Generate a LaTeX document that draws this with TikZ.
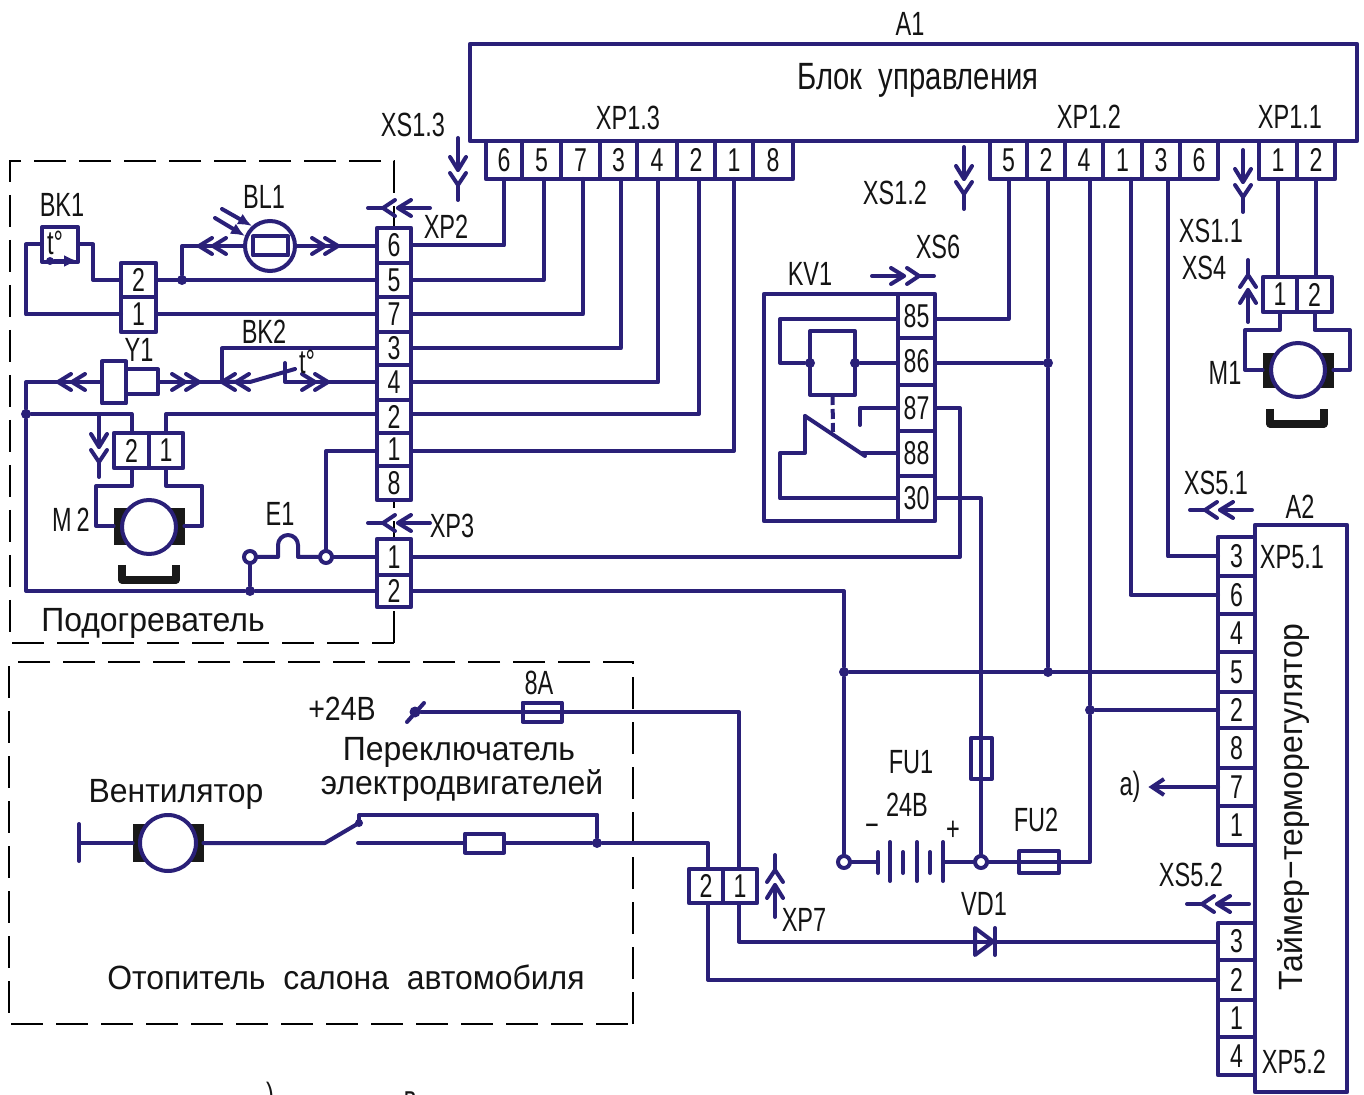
\documentclass[tikz,border=0pt]{standalone}
\usepackage{fontspec}
\usetikzlibrary{arrows.meta}
\setmainfont[FakeStretch=0.7]{Liberation Sans}
\newfontfamily\widefont[FakeStretch=0.95]{Liberation Sans}
\newfontfamily\midfont[FakeStretch=0.85]{Liberation Sans}
\newfontfamily\blokfont[FakeStretch=0.77]{Liberation Sans}
\definecolor{wirec}{HTML}{2A2078}
\definecolor{inkc}{HTML}{141414}
\newcommand{\cellat}[6]{\node[cellbox,minimum width={(#4-#2)*0.5pt},minimum height={(#5-#3)*0.5pt}] (#1) at ({(#2+#4)/2},{(#3+#5)/2}) {#6};}
\newcommand{\lab}[4]{\node[lbl] (#1) at (#2,#3) {#4};}
\newcommand{\wlab}[4]{\node[lbl] (#1) at (#2,#3) {\widefont #4};}
\tikzset{
 x=0.5pt,y=-0.5pt,
 wire/.style={draw=wirec,line width=2pt,line cap=round,line join=round},
 frameline/.style={draw=black,line width=1.4pt,dash pattern=on 16pt off 6.5pt},
 cellbox/.style={draw=wirec,line width=2.2pt,fill=white,inner sep=0pt,outer sep=0pt,text=inkc,font=\fontsize{16.5}{18}\selectfont,line join=round},
 lbl/.style={inner sep=0pt,outer sep=0pt,text=inkc,font=\fontsize{16.8}{19}\selectfont},
 biglbl/.style={lbl,font=\fontsize{19}{21}\selectfont},
 jdot/.style={circle,fill=wirec,inner sep=0pt,minimum size=5pt},
 odot/.style={circle,draw=wirec,fill=white,line width=2pt,inner sep=0pt,minimum size=6pt},
 chev/.pic={\draw[wire] (-13,-8)--(0,0)--(-13,8);},
 conn/.pic={\draw[wire] (-32,0)--(0,0); \draw[wire] (-13,-8)--(0,0)--(-13,8); \draw[wire] (3,-8)--(15,0)--(3,8); \draw[wire] (15,0)--(30,0);},
 brushbox/.style={fill=black!90,draw=black!90},
 ushape/.style={draw=black!90,line width=3.6pt,line join=round},
 rotor/.style={circle,draw=wirec,fill=white,line width=2pt,inner sep=0pt,minimum size=27pt},
 fusebox/.style={draw=wirec,line width=2pt,inner sep=0pt,outer sep=0pt,line join=round},
}
\begin{document}
\begin{tikzpicture}
\useasboundingbox (0,0) rectangle (1364,1095);
\clip (0,0) rectangle (1364,1095);
% frames
\draw[frameline] (394,643) -- (394,161) -- (10,161) -- (10,643) -- cycle;
\draw[frameline] (633,1024) -- (633,662) -- (9,662) -- (9,1024) -- cycle;
% main block
\node[cellbox,minimum width=443.5pt,minimum height=48.5pt] (A1box) at (913.5,92.5) {};
\lab{A1t}{910}{24}{A1}
\node[biglbl] (A1n) at (918,80) {\blokfont Блок\ \ управления};
% top connector cells
\cellat{a6}{486}{141}{522}{179}{6}
\cellat{a5}{522}{141}{561}{179}{5}
\cellat{a7}{561}{141}{600}{179}{7}
\cellat{a3}{600}{141}{637}{179}{3}
\cellat{a4}{637}{141}{677}{179}{4}
\cellat{a2}{677}{141}{715}{179}{2}
\cellat{a1}{715}{141}{753}{179}{1}
\cellat{a8}{753}{141}{793}{179}{8}
\cellat{b5}{990}{141}{1027}{179}{5}
\cellat{b2}{1027}{141}{1065}{179}{2}
\cellat{b4}{1065}{141}{1103}{179}{4}
\cellat{b1}{1103}{141}{1142}{179}{1}
\cellat{b3}{1142}{141}{1180}{179}{3}
\cellat{b6}{1180}{141}{1218}{179}{6}
\cellat{c1}{1259}{141}{1297}{179}{1}
\cellat{c2}{1297}{141}{1335}{179}{2}
% strip XP2
\cellat{p6}{377}{228}{411}{263}{6}
\cellat{p5}{377}{263}{411}{297}{5}
\cellat{p7}{377}{297}{411}{332}{7}
\cellat{p3}{377}{332}{411}{365}{3}
\cellat{p4}{377}{365}{411}{400}{4}
\cellat{p2}{377}{400}{411}{433}{2}
\cellat{p1}{377}{433}{411}{466}{1}
\cellat{p8}{377}{466}{411}{500}{8}
\cellat{q1}{377}{539}{411}{575}{1}
\cellat{q2}{377}{575}{411}{607}{2}
% small connectors
\cellat{g2}{121}{263}{156}{297}{2}
\cellat{g1}{121}{297}{156}{332}{1}
\cellat{m22}{114}{433}{149}{468}{2}
\cellat{m21}{149}{433}{183}{468}{1}
\cellat{d1}{1263}{277}{1297}{312}{1}
\cellat{d2}{1297}{277}{1332}{312}{2}
\cellat{f2}{689}{869}{723}{903}{2}
\cellat{f1}{723}{869}{757}{903}{1}
% relay
\node[cellbox,minimum width=67pt,minimum height=113.5pt] (KV) at (831,407.5) {};
\cellat{k85}{898}{294}{935}{338}{85}
\cellat{k86}{898}{338}{935}{385}{86}
\cellat{k87}{898}{385}{935}{431}{87}
\cellat{k88}{898}{431}{935}{476}{88}
\cellat{k30}{898}{476}{935}{521}{30}
% A2
\node[cellbox,minimum width=46pt,minimum height=283.5pt] (A2box) at (1301,808.5) {};
\cellat{t3}{1218}{537}{1255}{576}{3}
\cellat{t6}{1218}{576}{1255}{614}{6}
\cellat{t4}{1218}{614}{1255}{652}{4}
\cellat{t5}{1218}{652}{1255}{692}{5}
\cellat{t2}{1218}{692}{1255}{728}{2}
\cellat{t8}{1218}{728}{1255}{768}{8}
\cellat{t7}{1218}{768}{1255}{806}{7}
\cellat{tz}{1218}{806}{1255}{845}{1}
\cellat{u3}{1218}{923}{1255}{960}{3}
\cellat{u2}{1218}{960}{1255}{1000}{2}
\cellat{u1}{1218}{1000}{1255}{1037}{1}
\cellat{u4}{1218}{1037}{1255}{1075}{4}
% wires XP2 to top
\draw[wire] (p6.east) -| (a6.south);
\draw[wire] (p5.east) -| ([xshift=1pt]a5.south);
\draw[wire] (p7.east) -| ([xshift=1pt]a7.south);
\draw[wire] (p3.east) -| ([xshift=1pt]a3.south);
\draw[wire] (p4.east) -| ([xshift=0.5pt]a4.south);
\draw[wire] ([yshift=1.25pt]p2.east) -| ([xshift=1.5pt]a2.south);
\draw[wire] ([yshift=-0.75pt]p1.east) -| (a1.south);
% left side
\node[jdot] (j1) at (182,280) {};
\draw[wire] (g2.east) -- (p5.west);
\draw[wire] (g1.east) -- (p7.west);
% BK1
\node[fusebox,minimum width=18pt,minimum height=17.5pt] (BK) at (60,244.5) {};
\node[lbl] (BKt) at (55,243) {t°};
\coordinate (bkl) at (26,314.5);
\draw[wire] (BK.west) -| (bkl) -- (g1.west);
\coordinate (bkr) at (93,244.5);
\draw[wire] (BK.east) -- (bkr) |- (g2.west);
\node[jdot,minimum size=4pt] (bkd) at (50,261) {};
\coordinate (bke) at (78,261);
\draw[wire,-{Latex[length=7pt,width=6pt]}] (bkd) -- (bke);
% BL1
\node[rotor,minimum size=25pt] (BL) at (270,246) {};
\node[fusebox,minimum width=17.5pt,minimum height=9.5pt] (BLr) at (270.5,246) {};
\draw[wire] (j1) |- (BL.west);
\draw[wire] (BL.east) -- (BL.east -| p6.west);
\pic[rotate=180] at (199,246) {chev};
\pic[rotate=180] at (213,246) {chev};
\pic at (325,246) {chev};
\pic at (338,246) {chev};
\coordinate (r1a) at (222,209);\coordinate (r1b) at (252,226);
\coordinate (r2a) at (215,218);\coordinate (r2b) at (245,236);
\draw[wire,-{Latex[length=7pt,width=6pt]}] (r1a) -- (r1b);
\draw[wire,-{Latex[length=7pt,width=6pt]}] (r2a) -- (r2b);
% BK2 and Y1
\coordinate (bk2a) at (222,382);
\draw[wire] (p3.west) -| (bk2a);
\coordinate (bladeA) at (250,382);\coordinate (bladeB) at (295,369);
\coordinate (bk2c) at (285,363);\coordinate (bk2d) at (285,382);
\draw[wire] (bk2a) -- (bladeA) -- (bladeB);
\draw[wire] (bk2c) -- (bk2d) -- (bk2d -| p4.west);
\pic[rotate=180] at (222,382) {chev};
\pic[rotate=180] at (236,382) {chev};
\pic at (315,382) {chev};
\pic at (328,382) {chev};
\node[lbl] (BKs) at (307,362) {t°};
\node[fusebox,minimum width=12pt,minimum height=21pt] (Ya) at (114,382.5) {};
\node[fusebox,minimum width=16pt,minimum height=12.5pt] (Yb) at (142,382) {};
\draw[wire] (Yb.east) -- (bk2a);
\pic at (185,382) {chev};
\pic at (199,382) {chev};
\coordinate (yl) at (26,382);
\node[jdot] (j2) at (26,414) {};
\draw[wire] (Ya.west |- yl) -- (yl) -- (j2);
\pic[rotate=180] at (58,382) {chev};
\pic[rotate=180] at (72,382) {chev};
% M2
\draw[wire] (j2) -| (m22.north);
\draw[wire] ([yshift=1.25pt]p2.west) -| (m21.north);
\node[jdot] (j3) at (250,591) {};
\draw[wire] (j2) |- (j3) -- (q2.west);
\node[odot] (e1a) at (250,557) {};
\node[odot] (e1b) at (326,557) {};
\draw[wire] (e1a) -- (j3);
\draw[wire] (e1a) -- (278,557) -- (278,545) arc[start angle=180,end angle=360,radius=10] -- (298,557) -- (e1b);
\draw[wire] (e1b) -- (q1.west);
\draw[wire] (e1b) |- ([yshift=-0.75pt]p1.west);
\node[brushbox,minimum width=35pt,minimum height=18pt,inner sep=0pt] (M2b) at (149,526) {};
\node[rotor] (M2r) at (149,527) {};
\draw[ushape] (122,565) -- (122,580) -- (176,580) -- (176,565);
\coordinate (m2l) at (96,486);\coordinate (m2r) at (202,486);
\draw[wire] (m22.south) |- (m2l) |- (M2b.west);
\draw[wire] (m21.south) |- (m2r) |- (M2b.east);
% M1
\draw[wire] (c1.south) -- (c1.south |- d1.north);
\draw[wire] (c2.south) -- (c2.south |- d2.north);
\node[brushbox,minimum width=35pt,minimum height=17pt,inner sep=0pt] (M1b) at (1298,370) {};
\node[rotor] (M1r) at (1298,370) {};
\draw[ushape] (1270,409) -- (1270,424) -- (1324,424) -- (1324,409);
\coordinate (m1l) at (1245,330);\coordinate (m1r) at (1350,330);
\draw[wire] (d1.south) |- (m1l) |- (M1b.west);
\draw[wire] (d2.south) |- (m1r) |- (M1b.east);
% relay inside
\node[fusebox,minimum width=22.5pt,minimum height=32pt] (coil) at (832.5,363) {};
\node[jdot] (cl) at (coil.west) {};
\node[jdot] (cr) at (coil.east) {};
\coordinate (kl) at (780,319);
\draw[wire] ([yshift=-1.5pt]k85.west) -- (kl) |- (cl);
\draw[wire] (cr) -- (cr -| k86.west);
\coordinate (n87) at (860,408);\coordinate (n87b) at (860,425);
\draw[wire] (k87.west) -- (n87) -- (n87b);
\coordinate (bA) at (805,416);\coordinate (bB) at (865,456);
\draw[wire] (bA) -- (bB);
\coordinate (bC) at (862,453);
\draw[wire] (bC) -- (bC -| k88.west);
\coordinate (bD) at (805,453);\coordinate (bE) at (780,453);
\draw[wire] (bA) -- (bD) -- (bE) |- (k30.west);
\draw[wire,line cap=butt,dash pattern=on 5pt off 2pt] (coil.south) -- (833,432);
% relay outside
\draw[wire] ([yshift=-1.5pt]k85.east) -| (b5.south);
\node[jdot] (j4) at (1048,363) {};
\draw[wire] (j4 -| k86.east) -- (j4);
\node[jdot] (j5) at (1048,672) {};
\draw[wire] ([xshift=1pt]b2.south) -- (j4) -- (j5);
\coordinate (k87r) at (960,408);
\draw[wire] (k87.east) -- (k87r) |- (q1.east);
\node[odot] (bp) at (981,862) {};
\draw[wire] (k30.east) -| (bp);
% negative bus
\node[odot] (bn) at (844,862) {};
\node[jdot] (j6) at (844,672) {};
\draw[wire] (q2.east) -| (j6) -- (bn);
\draw[wire] (j6) -- (t5.west);
% battery
\coordinate (bat1) at (878,862);\coordinate (bat6) at (943,862);
\draw[wire] (bn) -- (bat1);
\draw[wire] (bat6) -- (bp);
\draw[wire] (878,852) -- (878,873);
\draw[wire] (890,842) -- (890,881);
\draw[wire] (903,852) -- (903,873);
\draw[wire] (917,842) -- (917,881);
\draw[wire] (930,852) -- (930,873);
\draw[wire] (943,842) -- (943,881);
% FU1, FU2
\node[fusebox,minimum width=10.5pt,minimum height=20.5pt] (FU1) at (981.5,758.5) {};
\node[fusebox,minimum width=20pt,minimum height=11pt] (FU2) at (1039,862) {};
\node[jdot] (j7) at (1090,710) {};
\coordinate (fu2r) at (1090,862);
\draw[wire] (bp) -- (FU2.west) -- (FU2.east) -- (fu2r) -- (j7) -- ([xshift=3pt]b4.south);
\draw[wire] (j7) -- (t2.west);
\draw[wire] ([xshift=4pt]b1.south) |- (t6.west);
\draw[wire] ([xshift=3.5pt]b3.south) |- (t3.west);
% a) arrow
\node[lbl] (aout) at (1130,787) {а)};
\draw[wire,-{Straight Barb[length=6pt,width=8pt]}] (t7.west) -- ([xshift=4pt]aout.east);
% heater of saloon
\node[jdot,minimum size=5.5pt] (plus) at (415,712) {};
\coordinate (pt1) at (407,722);\coordinate (pt2) at (424,703);
\draw[wire] (pt1) -- (pt2);
\node[fusebox,minimum width=19.5pt,minimum height=9.5pt] (F8) at (542,712) {};
\coordinate (p1c) at (739,712);
\draw[wire] (plus) -- (F8.west) -- (F8.east) -- (p1c) -- (f1.north -| p1c);
% fan
\node[brushbox,minimum width=35pt,minimum height=18.5pt,inner sep=0pt] (Fb) at (168,843) {};
\node[rotor,minimum size=28pt] (Fr) at (168,843) {};
\coordinate (fbar) at (79,843);
\draw[wire] (79,824) -- (79,861);
\draw[wire] (fbar) -- (Fb.west);
\coordinate (sw1) at (325,843);\coordinate (sw2) at (359,823);\coordinate (sw3) at (359,815);
\coordinate (sw4) at (597,815);\coordinate (sw5) at (358,843);
\draw[wire] (Fb.east) -- (sw1) -- (sw2);
\node[jdot,minimum size=4pt] (sw2d) at (sw2) {};
\draw[wire] (sw2) -- (sw3) -- (sw4);
\node[jdot] (j8) at (597,843) {};
\draw[wire] (sw4) -- (j8);
\node[fusebox,fill=white,minimum width=19.5pt,minimum height=9.5pt] (Rf) at (484.5,843) {};
\draw[wire] (sw5) -- (Rf.west);
\draw[wire] (Rf.east) -- (j8);
\coordinate (f2t) at (708,843);
\draw[wire] (j8) -- (f2t) -- (f2t |- f2.north);
% lower feeds
\coordinate (f2b) at (708,903);\coordinate (f1b) at (739,903);
\draw[wire] (f2b) |- (u2.west);
\draw[wire] (f1b) |- (u3.west);
% diode
\coordinate (dt) at (993,941.5);
\draw[wire] (975,928) -- (dt) -- (975,955) -- cycle;
\draw[wire] (995,928) -- (995,955);
% connector symbols
\pic[rotate=-90] at (458,170) {conn};
\pic[rotate=-90] at (964,179) {conn};
\pic[rotate=-90] at (1243,182) {conn};
\pic[rotate=90] at (1248,290) {conn};
\pic[rotate=180] at (398,208) {conn};
\pic[rotate=180] at (398,523) {conn};
\pic at (904,276) {conn};
\pic[rotate=-90] at (99,447) {conn};
\pic[rotate=180] at (1220,510) {conn};
\pic[rotate=180] at (1217,904) {conn};
\pic[rotate=90] at (775,885) {conn};
% labels
\lab{l1}{413}{125}{XS1.3}
\lab{l2}{628}{118}{XP1.3}
\lab{l3}{1089}{117}{XP1.2}
\lab{l4}{1290}{117}{XP1.1}
\lab{l5}{895}{193}{XS1.2}
\lab{l6}{1211}{231}{XS1.1}
\lab{l7}{1204}{268}{XS4}
\lab{l8}{938}{247}{XS6}
\lab{l9}{810}{274}{KV1}
\lab{l10}{446}{227}{XP2}
\lab{l11}{62}{205}{BK1}
\lab{l12}{264}{197}{BL1}
\lab{l13}{264}{332}{BK2}
\lab{l14}{139}{350}{Y1}
\lab{l15}{71}{520}{M\kern 2.5pt 2}
\lab{l16}{1225}{373}{M1}
\lab{l17}{280}{514}{E1}
\lab{l18}{452}{526}{XP3}
\lab{l19}{1216}{483}{XS5.1}
\lab{l20}{1191}{875}{XS5.2}
\lab{l21}{804}{920}{XP7}
\lab{l22}{1300}{507}{A2}
\lab{l23}{1292}{557}{XP5.1}
\lab{l24}{1294}{1062}{XP5.2}
\lab{l25}{911}{762}{FU1}
\lab{l26}{907}{805}{24В}
\lab{l27}{872}{830}{−}
\lab{l28}{953}{831}{+}
\lab{l29}{1036}{820}{FU2}
\lab{l30}{984}{904}{VD1}
\node[lbl] (l31) at (342,709) {\midfont +24В};
\lab{l32}{539}{683}{8А}
\wlab{l33}{153}{623}{Подогреватель}
\wlab{l34}{176}{794}{Вентилятор}
\wlab{l35}{459}{752}{Переключатель}
\wlab{l36}{462}{786}{электродвигателей}
\wlab{l37}{346}{977}{Отопитель\ \ салона\ \ автомобиля}
\node[lbl,rotate=90] (l38) at (1293,807) {\widefont Таймер−терморегулятор};
\lab{l39}{270}{1098}{)}
\lab{l40}{410}{1101}{в}
\end{tikzpicture}
\end{document}
